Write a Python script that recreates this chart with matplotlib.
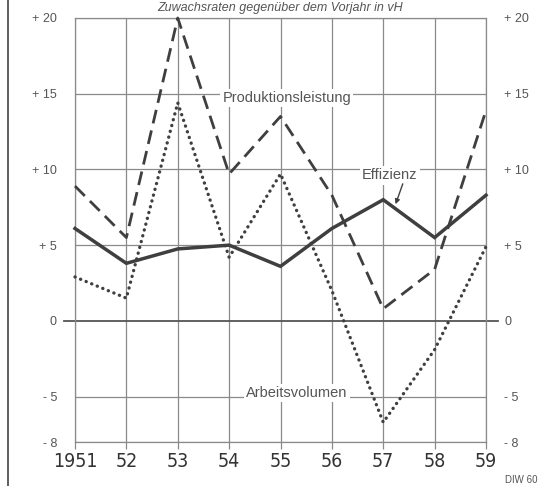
import matplotlib
matplotlib.use("Agg")
import matplotlib.pyplot as plt
from matplotlib import font_manager
from matplotlib.font_manager import FontProperties
from matplotlib.lines import Line2D

years = [1951, 1952, 1953, 1954, 1955, 1956, 1957, 1958, 1959]
year_labels = ["1951", "52", "53", "54", "55", "56", "57", "58", "59"]
produktion = [8.9, 5.5, 20.0, 9.7, 13.5, 8.3, 0.8, 3.4, 13.9]
effizienz = [6.1, 3.8, 4.75, 5.0, 3.6, 6.1, 8.0, 5.5, 8.3]
arbeitsvolumen = [2.9, 1.5, 14.4, 4.2, 9.7, 2.0, -6.7, -1.9, 4.9]
y_ticks = [-8, -5, 0, 5, 10, 15, 20]
y_labels = ["- 8", "- 5", "0", "+ 5", "+ 10", "+ 15", "+ 20"]
title = "Zuwachsraten gegenüber dem Vorjahr in vH"


def pick(fams):
    avail = {f.name for f in font_manager.fontManager.ttflist}
    out = [f for f in fams if f in avail]
    return out + ["DejaVu Sans"]


def condensed_font():
    cands = []
    for f in font_manager.fontManager.ttflist:
        fn = f.fname.lower()
        if ("narrow" in fn or "condensed" in fn) and "bold" not in fn \
                and "italic" not in fn and "oblique" not in fn and "serif" not in fn \
                and "mono" not in fn and "light" not in fn and "thin" not in fn:
            cands.append(f.fname)
    cands.sort(key=lambda p: (0 if "liberation" in p.lower() else 1, len(p)))
    return cands[0] if cands else None


plain = pick(["Liberation Sans"])
plt.rcParams["font.family"] = plain

cfont = condensed_font()
if cfont:
    size = 15 if "liberation" in cfont.lower() else 14
    year_fp = FontProperties(fname=cfont, size=size)
else:
    year_fp = FontProperties(family=plain, size=13.5)

LINE = "#3f3f3f"
GRID = "#8a8a8a"
TEXT = "#555555"

fig = plt.figure(figsize=(5.5, 4.86), dpi=100)
fig.patch.set_facecolor("white")
ax = fig.add_axes([75 / 550, 1 - 442 / 486, (486 - 75) / 550, (442 - 18) / 486])
ax.set_xlim(years[0], years[-1])
ax.set_ylim(-8, 20)

# grid
for yv in y_ticks:
    if yv != 0:
        ax.axhline(yv, color=GRID, lw=0.9, zorder=1)
for xv in years:
    ax.axvline(xv, color=GRID, lw=0.9, zorder=1)
ax.axhline(0, xmin=-0.026, xmax=1.028, color="#555555", lw=1.3, zorder=2, clip_on=False)

for s in ax.spines.values():
    s.set_color(GRID)
    s.set_linewidth(0.9)

# series
ax.plot(years, produktion, color=LINE, lw=2.0, dashes=(5.0, 2.6), zorder=4,
        dash_capstyle="butt", clip_on=False)
ax.plot(years, effizienz, color=LINE, lw=2.5, zorder=5, solid_joinstyle="miter", clip_on=False)
ax.plot(years, arbeitsvolumen, color=LINE, lw=2.4, dashes=(0.05, 1.75),
        dash_capstyle="round", zorder=4, clip_on=False)

# ticks
ax.set_xticks(years)
ax.set_xticklabels(year_labels, color="#333333")
for lab in ax.get_xticklabels():
    lab.set_fontproperties(year_fp)
ax.tick_params(axis="x", direction="out", length=5, width=0.9, color=GRID, pad=2)
ax.set_yticks(y_ticks)
ax.set_yticklabels(y_labels, fontsize=9, color=TEXT)
ax.tick_params(axis="y", length=0, pad=13, labelright=True, right=False)

# labels
bbox = dict(facecolor="white", edgecolor="none", pad=1.5)
ax.text(1955.12, 14.7, "Produktionsleistung", ha="center", va="center",
        fontsize=10.5, color=TEXT, bbox=bbox, zorder=3)
ax.text(1957.13, 9.6, "Effizienz", ha="center", va="center",
        fontsize=10.5, color=TEXT, bbox=bbox, zorder=3)
ax.text(1955.32, -4.75, "Arbeitsvolumen", ha="center", va="center",
        fontsize=10.5, color=TEXT, bbox=bbox, zorder=3)
ax.annotate("", xy=(1957.24, 7.7), xytext=(1957.38, 9.05),
            arrowprops=dict(arrowstyle="-|>", color=LINE, lw=1.0,
                            mutation_scale=7, shrinkA=0, shrinkB=0), zorder=6)

fig.text(0.51, 1 - 2 / 486, title, ha="center", va="top", fontsize=9,
         style="italic", color=TEXT)
fig.text(0.918, 1 - 475 / 486, "DIW 60", ha="left", va="top", fontsize=7, color=TEXT)

# page border line at left
fig.add_artist(Line2D([8 / 550, 8 / 550], [0, 1], transform=fig.transFigure,
                      color="#444444", lw=1.2))

fig.savefig("out.png", dpi=100, facecolor="white")
